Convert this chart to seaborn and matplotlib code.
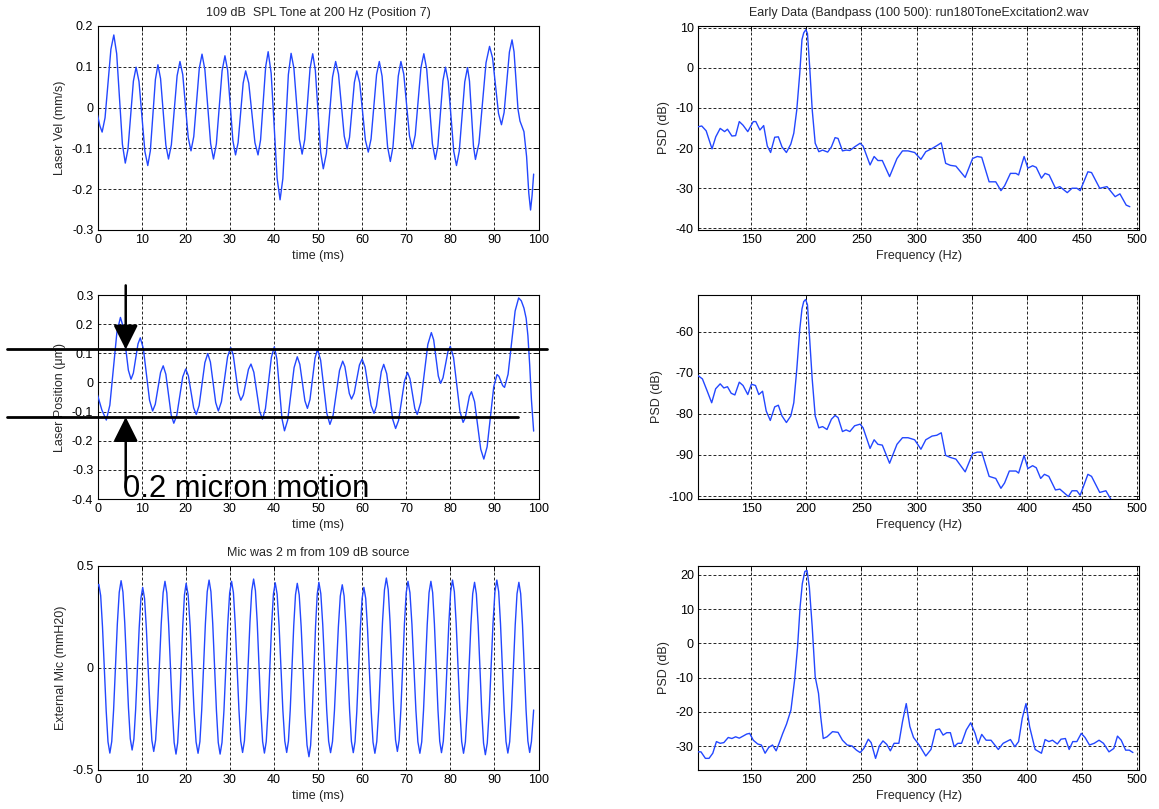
import matplotlib
matplotlib.use("Agg")
import matplotlib.pyplot as plt
import seaborn as sns
import pandas as pd

# ---------------------------------------------------------------- data
# laser velocity (mm/s) versus time (ms)
vel_samples = [
    (0.0, -0.018), (0.55, -0.045), (1.05, -0.060),
    (1.71, -0.025), (2.38, 0.059), (3.04, 0.143), (3.7, 0.178),
    (4.35, 0.132), (5.0, 0.021), (5.65, -0.090), (6.3, -0.136),
    (6.91, -0.102), (7.53, -0.019), (8.14, 0.065), (8.75, 0.099),
    (9.41, 0.064), (10.08, -0.022), (10.74, -0.107), (11.4, -0.142),
    (11.98, -0.106), (12.55, -0.019), (13.13, 0.069), (13.7, 0.105),
    (14.3, 0.071), (14.9, -0.011), (15.5, -0.092), (16.1, -0.126),
    (16.75, -0.091), (17.4, -0.007), (18.05, 0.078), (18.7, 0.113),
    (19.33, 0.081), (19.95, 0.004), (20.58, -0.074), (21.2, -0.106),
    (21.83, -0.071), (22.45, 0.013), (23.08, 0.096), (23.7, 0.131),
    (24.35, 0.093), (25.0, 0.003), (25.65, -0.088), (26.3, -0.126),
    (26.95, -0.089), (27.6, 0.001), (28.25, 0.090), (28.9, 0.127),
    (29.5, 0.092), (30.1, 0.006), (30.7, -0.081), (31.3, -0.116),
    (31.88, -0.086), (32.45, -0.013), (33.03, 0.060), (33.6, 0.090),
    (34.3, 0.060), (35.0, -0.013), (35.7, -0.086), (36.4, -0.116),
    (36.98, -0.079), (37.55, 0.011), (38.13, 0.100), (38.7, 0.137),
    (39.38, 0.084), (40.05, -0.045), (40.73, -0.173), (41.4, -0.226),
    (42.03, -0.174), (42.65, -0.047), (43.28, 0.081), (43.9, 0.133),
    (44.53, 0.097), (45.15, 0.010), (45.78, -0.078), (46.4, -0.114),
    (47.0, -0.078), (47.6, 0.009), (48.2, 0.096), (48.8, 0.132),
    (49.4, 0.091), (50.0, -0.009), (50.6, -0.109), (51.2, -0.150),
    (51.9, -0.112), (52.6, -0.019), (53.3, 0.075), (54.0, 0.113),
    (54.65, 0.082), (55.3, 0.006), (55.95, -0.070), (56.6, -0.101),
    (57.15, -0.073), (57.7, -0.006), (58.25, 0.062), (58.8, 0.090),
    (59.45, 0.061), (60.1, -0.010), (60.75, -0.080), (61.4, -0.109),
    (62.03, -0.077), (62.65, 0.002), (63.28, 0.081), (63.9, 0.113),
    (64.53, 0.077), (65.15, -0.010), (65.78, -0.096), (66.4, -0.132),
    (67.0, -0.096), (67.6, -0.010), (68.2, 0.077), (68.8, 0.113),
    (69.45, 0.082), (70.1, 0.006), (70.75, -0.070), (71.4, -0.101),
    (72.05, -0.067), (72.7, 0.016), (73.35, 0.098), (74.0, 0.132),
    (74.65, 0.094), (75.3, 0.003), (75.95, -0.089), (76.6, -0.127),
    (77.18, -0.094), (77.75, -0.014), (78.33, 0.066), (78.9, 0.099),
    (79.53, 0.064), (80.15, -0.022), (80.78, -0.107), (81.4, -0.142),
    (82.03, -0.107), (82.65, -0.022), (83.28, 0.063), (83.9, 0.098),
    (84.35, 0.065), (84.8, -0.015), (85.25, -0.094), (85.7, -0.127),
    (86.5, -0.087), (87.3, 0.012), (88.1, 0.110), (88.9, 0.150),
    (89.58, 0.122), (90.25, 0.054), (90.93, -0.014), (91.6, -0.042),
    (92.2, -0.012), (92.8, 0.062), (93.4, 0.136), (94.0, 0.166),
    (94.45, 0.137), (94.9, 0.067), (95.35, -0.004), (95.8, -0.033),
    (96.7, -0.059), (97.3, -0.120), (97.8, -0.210), (98.2, -0.251),
    (98.55, -0.215), (98.9, -0.163),
]

# laser position (um) versus time (ms)
pos_samples = [
    (0.0, -0.043), (1.0, -0.095), (2.0, -0.129),
    (2.8, -0.078), (3.6, 0.047), (4.4, 0.172), (5.2, 0.223),
    (5.8, 0.192), (6.4, 0.117), (7.0, 0.042), (7.6, 0.011),
    (8.13, 0.032), (8.65, 0.082), (9.18, 0.132), (9.7, 0.153),
    (10.4, 0.116), (11.1, 0.028), (11.8, -0.061), (12.5, -0.098),
    (13.1, -0.075), (13.7, -0.021), (14.3, 0.034), (14.9, 0.057),
    (15.5, 0.028), (16.1, -0.042), (16.7, -0.111), (17.3, -0.140),
    (17.98, -0.113), (18.65, -0.047), (19.33, 0.019), (20.0, 0.046),
    (20.6, 0.023), (21.2, -0.032), (21.8, -0.087), (22.4, -0.110),
    (23.05, -0.079), (23.7, -0.006), (24.35, 0.068), (25.0, 0.099),
    (25.6, 0.070), (26.2, 0.001), (26.8, -0.069), (27.4, -0.098),
    (28.1, -0.066), (28.8, 0.011), (29.5, 0.088), (30.2, 0.120),
    (30.78, 0.094), (31.35, 0.030), (31.93, -0.035), (32.5, -0.061),
    (33.08, -0.043), (33.65, 0.001), (34.23, 0.045), (34.8, 0.063),
    (35.45, 0.035), (36.1, -0.032), (36.75, -0.098), (37.4, -0.126),
    (38.08, -0.090), (38.75, -0.002), (39.43, 0.086), (40.1, 0.122),
    (40.68, 0.080), (41.25, -0.022), (41.83, -0.124), (42.4, -0.166),
    (43.13, -0.129), (43.85, -0.039), (44.58, 0.051), (45.3, 0.088),
    (45.88, 0.062), (46.45, 0.000), (47.03, -0.063), (47.6, -0.089),
    (48.18, -0.059), (48.75, 0.013), (49.33, 0.084), (49.9, 0.114),
    (50.6, 0.076), (51.3, -0.015), (52.0, -0.106), (52.7, -0.144),
    (53.43, -0.112), (54.15, -0.036), (54.88, 0.041), (55.6, 0.073),
    (56.1, 0.054), (56.6, 0.008), (57.1, -0.038), (57.6, -0.057),
    (58.2, -0.037), (58.8, 0.012), (59.4, 0.060), (60.0, 0.080),
    (60.68, 0.053), (61.35, -0.013), (62.03, -0.079), (62.7, -0.106),
    (63.25, -0.081), (63.8, -0.022), (64.35, 0.037), (64.9, 0.062),
    (65.58, 0.030), (66.25, -0.048), (66.93, -0.126), (67.6, -0.158),
    (68.28, -0.130), (68.95, -0.062), (69.63, 0.006), (70.3, 0.034),
    (70.85, 0.013), (71.4, -0.038), (71.95, -0.089), (72.5, -0.110),
    (73.3, -0.069), (74.1, 0.031), (74.9, 0.130), (75.7, 0.171),
    (76.23, 0.146), (76.75, 0.084), (77.28, 0.022), (77.8, -0.003),
    (78.35, 0.016), (78.9, 0.061), (79.45, 0.105), (80.0, 0.124),
    (80.73, 0.086), (81.45, -0.007), (82.18, -0.099), (82.9, -0.137),
    (83.38, -0.122), (83.85, -0.085), (84.33, -0.047), (84.8, -0.032),
    (85.5, -0.066), (86.2, -0.148), (86.9, -0.229), (87.6, -0.263),
    (88.35, -0.221), (89.1, -0.118), (89.85, -0.015), (90.6, 0.027),
    (91.03, 0.021), (91.45, 0.005), (91.88, -0.011), (92.3, -0.017),
    (93.1, 0.028), (93.9, 0.137), (94.7, 0.245), (95.5, 0.290),
    (96.1, 0.280), (96.7, 0.255), (97.2, 0.220), (97.6, 0.160),
    (98.0, 0.060), (98.4, -0.060), (98.9, -0.167),
]

# external microphone (mmH20) versus time (ms)
mic_samples = [
    (0.0, 0.400), (0.3, 0.410),
    (0.72, 0.355), (1.13, 0.203), (1.55, -0.004), (1.97, -0.210), (2.38, -0.362), (2.8, -0.417),
    (3.23, -0.360), (3.65, -0.206), (4.08, 0.006), (4.5, 0.217), (4.93, 0.371), (5.35, 0.428),
    (5.77, 0.372), (6.18, 0.221), (6.6, 0.013), (7.02, -0.195), (7.43, -0.346), (7.85, -0.402),
    (8.25, -0.349), (8.65, -0.203), (9.05, -0.004), (9.45, 0.196), (9.85, 0.342), (10.25, 0.395),
    (10.67, 0.341), (11.08, 0.194), (11.5, -0.007), (11.92, -0.208), (12.33, -0.355), (12.75, -0.409),
    (13.18, -0.353), (13.6, -0.201), (14.03, 0.008), (14.45, 0.217), (14.88, 0.369), (15.3, 0.425),
    (15.72, 0.368), (16.13, 0.213), (16.55, 0.002), (16.97, -0.210), (17.38, -0.365), (17.8, -0.422),
    (18.18, -0.366), (18.57, -0.213), (18.95, -0.004), (19.33, 0.206), (19.72, 0.359), (20.1, 0.415),
    (20.55, 0.359), (21.0, 0.207), (21.45, -0.002), (21.9, -0.210), (22.35, -0.362), (22.8, -0.418),
    (23.22, -0.361), (23.63, -0.206), (24.05, 0.007), (24.47, 0.219), (24.88, 0.374), (25.3, 0.431),
    (25.72, 0.374), (26.13, 0.218), (26.55, 0.005), (26.97, -0.209), (27.38, -0.365), (27.8, -0.422),
    (28.23, -0.365), (28.67, -0.210), (29.1, 0.002), (29.53, 0.213), (29.97, 0.368), (30.4, 0.425),
    (30.82, 0.369), (31.23, 0.215), (31.65, 0.006), (32.07, -0.204), (32.48, -0.358), (32.9, -0.414),
    (33.32, -0.357), (33.73, -0.202), (34.15, 0.011), (34.57, 0.224), (34.98, 0.379), (35.4, 0.436),
    (35.81, 0.379), (36.22, 0.223), (36.63, 0.010), (37.03, -0.204), (37.44, -0.360), (37.85, -0.417),
    (38.26, -0.361), (38.67, -0.208), (39.08, 0.001), (39.48, 0.209), (39.89, 0.362), (40.3, 0.418),
    (40.73, 0.362), (41.17, 0.210), (41.6, 0.002), (42.03, -0.206), (42.47, -0.358), (42.9, -0.414),
    (43.3, -0.358), (43.7, -0.207), (44.1, 0.001), (44.5, 0.208), (44.9, 0.359), (45.3, 0.415),
    (45.74, 0.358), (46.18, 0.203), (46.63, -0.010), (47.07, -0.223), (47.51, -0.378), (47.95, -0.435),
    (48.33, -0.378), (48.7, -0.221), (49.08, -0.008), (49.45, 0.206), (49.83, 0.363), (50.2, 0.420),
    (50.64, 0.364), (51.08, 0.211), (51.53, 0.003), (51.97, -0.206), (52.41, -0.359), (52.85, -0.415),
    (53.29, -0.360), (53.73, -0.209), (54.18, -0.004), (54.62, 0.202), (55.06, 0.353), (55.5, 0.408),
    (55.92, 0.353), (56.33, 0.202), (56.75, -0.004), (57.17, -0.209), (57.58, -0.360), (58.0, -0.415),
    (58.4, -0.361), (58.8, -0.213), (59.2, -0.010), (59.6, 0.193), (60.0, 0.341), (60.4, 0.395),
    (60.82, 0.341), (61.23, 0.192), (61.65, -0.012), (62.07, -0.215), (62.48, -0.364), (62.9, -0.418),
    (63.33, -0.360), (63.77, -0.203), (64.2, 0.012), (64.63, 0.226), (65.07, 0.383), (65.5, 0.441),
    (65.92, 0.384), (66.33, 0.229), (66.75, 0.016), (67.17, -0.197), (67.58, -0.352), (68.0, -0.409),
    (68.4, -0.353), (68.8, -0.201), (69.2, 0.008), (69.6, 0.217), (70.0, 0.369), (70.4, 0.425),
    (70.85, 0.369), (71.3, 0.214), (71.75, 0.004), (72.2, -0.207), (72.65, -0.362), (73.1, -0.418),
    (73.52, -0.362), (73.93, -0.207), (74.35, 0.004), (74.77, 0.214), (75.18, 0.369), (75.6, 0.425),
    (76.0, 0.369), (76.4, 0.215), (76.8, 0.005), (77.2, -0.205), (77.6, -0.359), (78.0, -0.415),
    (78.42, -0.358), (78.83, -0.204), (79.25, 0.008), (79.67, 0.220), (80.08, 0.374), (80.5, 0.431),
    (80.92, 0.374), (81.33, 0.219), (81.75, 0.007), (82.17, -0.206), (82.58, -0.361), (83.0, -0.418),
    (83.42, -0.362), (83.83, -0.209), (84.25, 0.001), (84.67, 0.211), (85.08, 0.364), (85.5, 0.420),
    (85.91, 0.363), (86.32, 0.209), (86.73, -0.003), (87.13, -0.214), (87.54, -0.368), (87.95, -0.425),
    (88.38, -0.368), (88.82, -0.211), (89.25, 0.003), (89.68, 0.217), (90.12, 0.374), (90.55, 0.431),
    (90.97, 0.374), (91.38, 0.219), (91.8, 0.007), (92.22, -0.205), (92.63, -0.360), (93.05, -0.417),
    (93.47, -0.361), (93.88, -0.208), (94.3, 0.002), (94.72, 0.211), (95.13, 0.364), (95.55, 0.420),
    (95.96, 0.364), (96.37, 0.212), (96.78, 0.003), (97.18, -0.206), (97.59, -0.358), (98.0, -0.414),
    (98.4, -0.360), (98.9, -0.206),
]

# power spectral densities (dB) versus frequency (Hz)
vel_psd_freq = [
    101.9, 105.3, 109.3, 114.6, 118.0, 122.0, 126.0, 128.6, 132.6, 136.0,
    139.3, 142.7, 147.0, 152.0, 154.3, 158.0, 161.4, 164.7, 167.7, 171.4,
    174.7, 178.0, 182.0, 186.0, 188.7, 191.4, 194.1, 196.1, 197.7, 199.7,
    201.1, 203.1, 205.4, 208.1, 211.4, 214.8, 219.4, 222.8, 226.1, 228.8,
    232.8, 236.1, 239.5, 243.8, 248.8, 251.5, 257.8, 261.5, 264.9, 268.9,
    275.5, 282.2, 287.2, 292.2, 298.2, 303.9, 308.3, 314.0, 318.3, 322.3,
    326.3, 330.6, 335.6, 344.0, 350.7, 355.0, 359.0, 365.7, 371.7, 376.4,
    379.7, 385.0, 390.0, 392.4, 397.4, 400.8, 405.1, 408.4, 413.1, 416.4,
    420.1, 425.8, 429.8, 436.5, 440.8, 445.2, 448.2, 455.2, 458.5, 465.9,
    472.5, 479.9, 484.2, 489.9, 493.2,
]
vel_psd_db = [
    -14.7, -14.5, -15.7, -20.2, -17.2, -15.1, -15.9, -15.3, -17.0, -16.9,
    -13.4, -14.3, -15.9, -13.4, -13.4, -15.5, -14.4, -19.5, -21.1, -17.3,
    -17.2, -19.7, -21.1, -19.0, -16.3, -10.5, -1.4, 7.0, 8.7, 9.5,
    8.5, 0.2, -10.5, -18.8, -20.9, -20.5, -21.0, -19.7, -17.4, -17.6,
    -20.7, -20.5, -20.6, -19.7, -18.8, -19.5, -24.2, -22.1, -23.1, -23.1,
    -27.1, -22.6, -20.7, -20.7, -21.1, -22.8, -20.9, -20.1, -19.4, -18.7,
    -23.8, -24.3, -24.5, -27.3, -22.6, -22.1, -22.3, -28.4, -28.4, -30.6,
    -29.4, -26.3, -26.3, -26.7, -22.1, -25.0, -24.4, -24.8, -27.5, -26.3,
    -26.7, -30.0, -29.6, -31.1, -30.0, -30.0, -30.6, -25.9, -26.1, -30.0,
    -29.6, -32.1, -31.4, -34.2, -34.6,
]

pos_psd_freq = [
    101.9, 105.9, 110.3, 114.3, 117.9, 122.0, 125.3, 128.6, 132.0, 135.3,
    139.3, 142.7, 147.0, 150.3, 154.0, 157.0, 160.4, 163.7, 167.4, 171.4,
    174.7, 178.0, 182.0, 186.0, 188.7, 191.4, 194.1, 196.1, 197.7, 199.4,
    201.1, 203.1, 205.4, 208.1, 211.4, 214.8, 218.8, 222.8, 226.1, 228.8,
    232.8, 236.1, 239.5, 243.8, 248.8, 251.5, 257.8, 261.5, 264.9, 268.9,
    275.5, 282.2, 287.2, 292.2, 298.2, 303.9, 308.3, 314.0, 318.3, 322.3,
    326.3, 330.6, 335.6, 344.0, 350.7, 355.0, 359.0, 365.7, 371.7, 376.4,
    379.7, 384.0, 390.0, 392.4, 397.4, 400.8, 405.1, 408.4, 412.4, 415.8,
    419.8, 425.8, 429.8, 437.5, 440.8, 445.2, 448.2, 455.2, 458.5, 465.9,
    471.5, 475.9,
]
pos_psd_db = [
    -70.7, -71.5, -74.5, -77.3, -73.9, -72.7, -73.7, -73.4, -75.0, -75.4,
    -72.3, -73.1, -75.3, -72.8, -73.1, -75.3, -74.5, -79.3, -81.6, -78.3,
    -77.9, -80.5, -82.1, -80.5, -77.3, -69.2, -59.5, -54.5, -52.7, -52.2,
    -53.5, -61.9, -71.6, -80.5, -83.4, -83.1, -83.8, -81.3, -80.4, -80.9,
    -84.3, -83.9, -84.3, -82.9, -82.5, -83.4, -88.4, -86.3, -87.4, -87.6,
    -92.0, -87.4, -85.8, -85.8, -86.3, -88.6, -86.3, -85.4, -85.2, -84.6,
    -90.1, -90.6, -91.0, -94.1, -89.7, -89.3, -89.3, -95.2, -95.7, -98.1,
    -96.8, -93.9, -93.9, -94.4, -90.1, -93.3, -92.6, -93.1, -95.7, -94.7,
    -95.2, -98.5, -98.3, -100.1, -98.7, -98.7, -99.8, -94.7, -95.2, -99.1,
    -98.7, -100.7,
]

mic_psd_freq = [
    101.9, 104.6, 108.6, 111.9, 115.3, 118.6, 122.0, 125.3, 129.3, 132.6,
    136.0, 139.3, 142.7, 146.0, 148.7, 152.0, 156.0, 159.3, 162.7, 166.0,
    169.4, 172.7, 175.4, 178.7, 182.1, 186.1, 189.4, 192.1, 194.4, 196.4,
    198.7, 200.7, 202.8, 205.4, 208.1, 211.1, 213.1, 215.4, 218.8, 223.8,
    228.8, 232.8, 237.1, 241.5, 245.5, 248.8, 252.2, 256.2, 258.8, 262.8,
    266.2, 269.5, 272.9, 276.2, 279.6, 283.9, 287.2, 290.6, 293.9, 297.2,
    302.3, 308.3, 313.0, 317.3, 320.7, 324.0, 327.3, 330.6, 334.0, 337.3,
    340.7, 345.0, 349.0, 353.0, 355.7, 359.0, 363.0, 367.4, 374.0, 378.4,
    385.0, 389.0, 392.4, 395.7, 399.1, 402.4, 407.4, 413.1, 416.4, 419.8,
    423.1, 427.5, 430.8, 434.8, 438.2, 441.5, 445.2, 449.2, 452.6, 456.6,
    460.9, 465.3, 469.3, 474.3, 478.7, 482.0, 485.4, 489.4, 492.7, 496.0,
]
mic_psd_db = [
    -31.7, -31.7, -33.6, -33.6, -32.1, -28.7, -29.2, -29.0, -27.5, -27.8,
    -27.3, -27.7, -27.1, -26.5, -26.3, -28.3, -29.4, -29.7, -32.1, -30.4,
    -29.7, -31.4, -29.2, -26.3, -23.6, -19.5, -10.8, -1.1, 10.6, 17.4,
    21.0, 21.3, 16.4, 4.8, -9.8, -14.6, -21.5, -27.8, -27.3, -25.8,
    -26.0, -28.3, -29.7, -30.0, -31.2, -31.9, -30.7, -28.0, -29.0, -33.6,
    -30.0, -28.5, -29.5, -31.4, -29.2, -29.2, -22.9, -17.6, -24.3, -27.5,
    -29.7, -32.9, -31.0, -25.3, -25.0, -26.8, -26.1, -26.1, -30.2, -29.2,
    -29.2, -25.3, -23.2, -26.3, -29.4, -26.6, -28.3, -28.3, -31.0, -29.2,
    -28.1, -30.2, -28.7, -21.9, -17.6, -24.4, -31.0, -32.1, -28.1, -28.7,
    -28.3, -29.4, -28.0, -27.8, -31.0, -28.7, -28.7, -26.3, -27.5, -29.7,
    -29.2, -28.3, -29.2, -31.7, -30.7, -27.1, -28.3, -31.2, -31.2, -31.9,
]

# axis ticks
time_ticks = [0, 10, 20, 30, 40, 50, 60, 70, 80, 90, 100]
freq_ticks = [150, 200, 250, 300, 350, 400, 450, 500]
vel_yticks = [-0.3, -0.2, -0.1, 0, 0.1, 0.2]
vel_ylabels = ["-0.3", "-0.2", "-0.1", "0", "0.1", "0.2"]
pos_yticks = [-0.4, -0.3, -0.2, -0.1, 0, 0.1, 0.2, 0.3]
pos_ylabels = ["-0.4", "-0.3", "-0.2", "-0.1", "0", "0.1", "0.2", "0.3"]
mic_yticks = [-0.5, 0, 0.5]
mic_ylabels = ["-0.5", "0", "0.5"]
vel_psd_yticks = [-40, -30, -20, -10, 0, 10]
pos_psd_yticks = [-100, -90, -80, -70, -60]
mic_psd_yticks = [-30, -20, -10, 0, 10, 20]

# band shown on the position trace (um) and its annotation
band_upper = 0.113
band_lower = -0.119
band_label = "0.2 micron motion"

# ---------------------------------------------------------------- style
sns.set_theme(style="white")
plt.rcParams["font.family"] = ["Liberation Sans", "DejaVu Sans"]
plt.rcParams["axes.unicode_minus"] = False

LINE = "#2347ff"
FS = 9

fig = plt.figure(figsize=(11.59, 8.09), dpi=100)
W, H = 1159.0, 809.0


def add_axes(x0, y_top, w=441.0, h=204.0):
    return fig.add_axes([x0 / W, 1 - (y_top + h) / H, w / W, h / H])


def style(ax, xlim, xticks, ylim, yticks, ylabels, xlabel, ylabel, title=None):
    ax.set_xlim(*xlim)
    ax.set_ylim(*ylim)
    ax.set_xticks(xticks)
    ax.set_xticklabels([str(t) for t in xticks])
    ax.set_yticks(yticks)
    ax.set_yticklabels(ylabels)
    ax.set_xlabel(xlabel, fontsize=FS, labelpad=3)
    ax.set_ylabel(ylabel, fontsize=FS, labelpad=4)
    if title:
        ax.set_title(title, fontsize=FS, pad=7)
    ax.grid(True, color="black", linestyle=(0, (3.5, 2.5)), linewidth=0.6)
    ax.tick_params(direction="in", length=3.5, width=0.6, top=True, right=True,
                   labelsize=FS, pad=3, colors="black")
    for sp in ax.spines.values():
        sp.set_color("black")
        sp.set_linewidth(0.8)
    ax.set_facecolor("white")


def trace(ax, xs, ys):
    df = pd.DataFrame({"x": xs, "y": ys})
    sns.lineplot(data=df, x="x", y="y", ax=ax, color=LINE, linewidth=1.0,
                 estimator=None, sort=False, zorder=3)


# left column: time traces
ax_vel = add_axes(97.5, 26)
t, v = zip(*vel_samples)
trace(ax_vel, t, v)
style(ax_vel, (0, 100), time_ticks, (-0.3, 0.2), vel_yticks, vel_ylabels,
      "time (ms)", "Laser Vel (mm/s)", "109 dB  SPL Tone at 200 Hz (Position 7)")

ax_pos = add_axes(97.5, 295)
t, v = zip(*pos_samples)
trace(ax_pos, t, v)
style(ax_pos, (0, 100), time_ticks, (-0.4, 0.3), pos_yticks, pos_ylabels,
      "time (ms)", "Laser Position (\u03bcm)")

ax_mic = add_axes(97.5, 566)
t, v = zip(*mic_samples)
trace(ax_mic, t, v)
style(ax_mic, (0, 100), time_ticks, (-0.5, 0.5), mic_yticks, mic_ylabels,
      "time (ms)", "External Mic (mmH20)", "Mic was 2 m from 109 dB source")

# right column: spectra
ax_s1 = add_axes(698, 26)
trace(ax_s1, vel_psd_freq, vel_psd_db)
style(ax_s1, (101.9, 501.5), freq_ticks, (-40.4, 10.4), vel_psd_yticks,
      [str(t) for t in vel_psd_yticks], "Frequency (Hz)", "PSD (dB)",
      "Early Data (Bandpass (100 500): run180ToneExcitation2.wav")

ax_s2 = add_axes(698, 295)
trace(ax_s2, pos_psd_freq, pos_psd_db)
style(ax_s2, (101.9, 501.5), freq_ticks, (-100.7, -51.1), pos_psd_yticks,
      [str(t) for t in pos_psd_yticks], "Frequency (Hz)", "PSD (dB)")

ax_s3 = add_axes(698, 566)
trace(ax_s3, mic_psd_freq, mic_psd_db)
style(ax_s3, (101.9, 501.5), freq_ticks, (-37.0, 22.6), mic_psd_yticks,
      [str(t) for t in mic_psd_yticks], "Frequency (Hz)", "PSD (dB)")

# annotation of the peak-to-peak band on the position trace
ax_pos.plot([-20.5, 101.9], [band_upper, band_upper], color="black", lw=2.0,
            clip_on=False, zorder=6)
ax_pos.plot([-20.5, 95.4], [band_lower, band_lower], color="black", lw=2.0,
            clip_on=False, zorder=6)
arrow = dict(arrowstyle="-|>,head_length=1.0,head_width=0.5", mutation_scale=15,
             lw=1.8, color="black", shrinkA=0, shrinkB=0)
ax_pos.annotate("", xy=(6.4, band_upper), xytext=(6.4, 0.333),
                arrowprops=arrow, annotation_clip=False, zorder=6)
ax_pos.annotate("", xy=(6.4, band_lower), xytext=(6.4, -0.36),
                arrowprops=arrow, annotation_clip=False, zorder=6)
ax_pos.text(5.8, -0.393, band_label, fontsize=22.3, ha="left", va="baseline",
            color="black", clip_on=False, zorder=6)

fig.savefig("out.png", dpi=100, facecolor="white")
